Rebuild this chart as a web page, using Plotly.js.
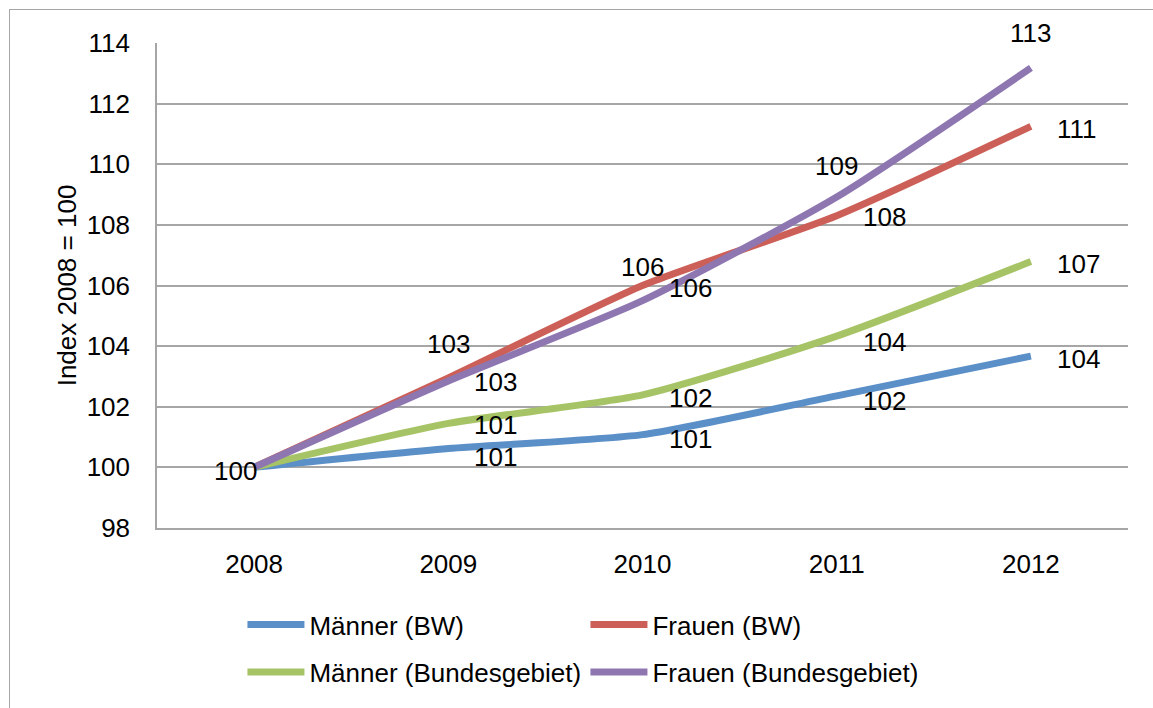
<!DOCTYPE html>
<html><head><meta charset="utf-8">
<script src="https://cdn.plot.ly/plotly-3.0.1.min.js"></script>
<style>
html,body{margin:0;padding:0;background:#fff;overflow:hidden;}
#frame{position:absolute;left:9px;top:9px;width:1200px;height:800px;border-left:1.5px solid #a6a6a6;border-top:1.5px solid #a6a6a6;pointer-events:none;}
#chart{position:absolute;left:0;top:0;width:1153px;height:708px;}
</style>
</head><body><div id="frame"></div><div id="chart"></div>
<script>
// ---- data ----
const years = ['2008', '2009', '2010', '2011', '2012'];
const seriesNames = ['Männer (BW)', 'Frauen (BW)', 'Männer (Bundesgebiet)', 'Frauen (Bundesgebiet)'];
const maennerBW = [100, 100.62, 101.08, 102.36, 103.67];
const frauenBW = [100, 102.95, 106.0, 108.3, 111.25];
const maennerBund = [100, 101.45, 102.39, 104.33, 106.79];
const frauenBund = [100, 102.85, 105.5, 108.92, 113.18];
const yTickValues = [98, 100, 102, 104, 106, 108, 110, 112, 114];
const yAxisTitle = 'Index 2008 = 100';

// ---- style ----
const colors = ['#5B8FC8', '#CC6058', '#A6C466', '#8E77B1'];
const legendIds = ['legend', 'legend', 'legend2', 'legend2'];
// label placement per point: 'left', 'right', 'above' or 'none'
const labelPos = [
  ['left', 'right', 'right', 'right', 'right'],
  ['none', 'above', 'above', 'right', 'right'],
  ['none', 'right', 'right', 'right', 'right'],
  ['none', 'right', 'right', 'above', 'above']
];
// vertical nudge of each label in pixels (up = positive)
const labelDy = [
  [-4, -8, -4, -5, -3],
  [0, 34, 19, -1, -3],
  [0, -2, -3, -6, -2],
  [0, -1, 13, 31, 35]
];
const FONT = 'Liberation Sans, Arial, sans-serif';
const FS = 26;

const allSeries = [maennerBW, frauenBW, maennerBund, frauenBund];

const traces = allSeries.map((vals, i) => ({
  type: 'scatter', mode: 'lines',
  x: years, y: vals, name: seriesNames[i],
  legend: legendIds[i],
  line: {color: colors[i], width: 7, shape: 'spline', smoothing: 0.6},
  hoverinfo: 'skip'
}));

const annotations = [];
allSeries.forEach((vals, i) => {
  vals.forEach((v, j) => {
    const p = labelPos[i][j];
    if (p === 'none') return;
    const a = {xref: 'x', yref: 'y', x: j, y: v, text: String(Math.round(v)), showarrow: false,
      yanchor: 'middle', yshift: labelDy[i][j], borderpad: 0,
      font: {family: FONT, size: FS, color: '#000'}};
    if (p === 'right') { a.xanchor = 'left'; a.xshift = 25; }
    else if (p === 'above') { a.xanchor = 'center'; a.xshift = 0; }
    else if (p === 'left') { a.xanchor = 'center'; a.xshift = -19; }
    annotations.push(a);
  });
});

const legendCommon = {
  orientation: 'h', font: {family: FONT, size: FS, color: '#000'},
  itemwidth: 57, entrywidth: 271, entrywidthmode: 'pixels',
  bgcolor: 'rgba(0,0,0,0)', xanchor: 'left', yanchor: 'middle'
};

const layout = {
  width: 1153, height: 708,
  margin: {l: 157, r: 25, t: 43, b: 177},
  paper_bgcolor: 'rgba(0,0,0,0)', plot_bgcolor: 'rgba(0,0,0,0)',
  font: {family: FONT, size: FS, color: '#000'},
  xaxis: {
    type: 'category', range: [-0.5, 4.5], showgrid: false, zeroline: false,
    showline: true, linecolor: '#a6a6a6', linewidth: 1.5, ticks: '',
    ticklabelstandoff: 12, tickfont: {family: FONT, size: FS, color: '#000'}
  },
  yaxis: {
    range: [98, 114], tickvals: yTickValues, ticktext: yTickValues.map(String),
    showgrid: true, gridcolor: '#a6a6a6', gridwidth: 1.5, zeroline: false,
    showline: true, linecolor: '#a6a6a6', linewidth: 1.5, ticks: '',
    ticklabelstandoff: 20, tickfont: {family: FONT, size: FS, color: '#000'},
    title: {text: yAxisTitle, font: {family: FONT, size: FS, color: '#000'}, standoff: 3}
  },
  legend: Object.assign({x: 0.088, y: -0.199}, legendCommon),
  legend2: Object.assign({x: 0.088, y: -0.297}, legendCommon),
  annotations: annotations,
  showlegend: true
};

Plotly.newPlot('chart', traces, layout, {displayModeBar: false});
</script>
</body></html>
